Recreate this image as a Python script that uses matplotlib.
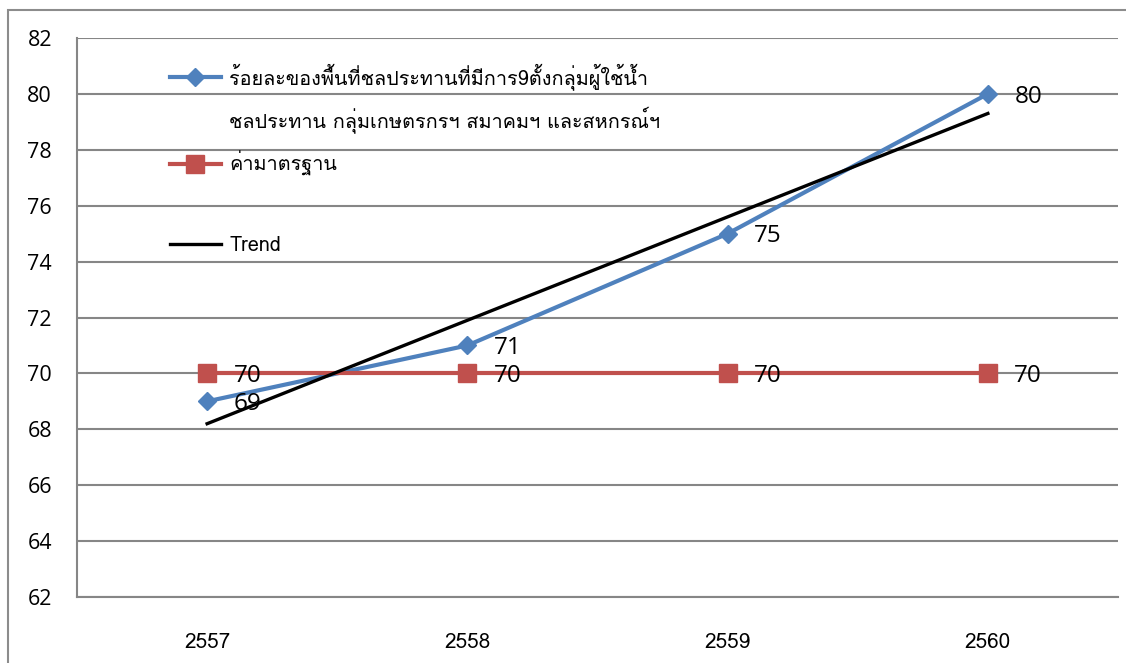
import numpy as np
import matplotlib
matplotlib.use('Agg')
import matplotlib.pyplot as plt
from matplotlib.lines import Line2D
from matplotlib.patches import Rectangle

# data
years = ['2557', '2558', '2559', '2560']
pct_area = [69, 71, 75, 80]
standard = [70, 70, 70, 70]

label_line1 = 'ร้อยละของพื้นที่ชลประทานที่มีการ9ตั้งกลุ่มผู้ใช้น้ำ'
label_line2 = 'ชลประทาน กลุ่มเกษตรกรฯ สมาคมฯ และสหกรณ์ฯ'
label_std = 'ค่ามาตรฐาน'
label_trend = 'Trend'

blue = '#4F81BD'
red = '#C0504D'
grid_col = '#868686'
thai_font = ['Loma', 'DejaVu Sans']
num_font = ['Open Sans', 'DejaVu Sans']

W, H = 1126, 663
fig = plt.figure(figsize=(W / 100, H / 100), dpi=100)
ax = fig.add_axes([77 / W, (H - 597) / H, 1041 / W, 559 / H])

# outer chart border (cropped on the right and bottom)
fig.patches.append(Rectangle((8 / W, -0.2), 1.5, 1.2 - 10 / H, transform=fig.transFigure,
                             fill=False, edgecolor='#8c8c8c', lw=1.5))

x = np.arange(len(years))
ax.plot(x, pct_area, color=blue, lw=3, marker='D', ms=9.5, zorder=3)
ax.plot(x, standard, color=red, lw=3, marker='s', ms=13, zorder=3)

# linear trend of the first series (as the spreadsheet trendline does)
slope, icpt = np.polyfit(x, pct_area, 1)
ax.plot(x, slope * x + icpt, color='black', lw=2.4, zorder=4)

for xi, v in zip(x, pct_area):
    ax.annotate(str(v), (xi, v), xytext=(19, -2), textcoords='offset points',
                ha='left', va='center', fontsize=17.5, family=num_font, zorder=5)
for xi, v in zip(x, standard):
    ax.annotate(str(v), (xi, v), xytext=(19, -2), textcoords='offset points',
                ha='left', va='center', fontsize=17.5, family=num_font, zorder=5)

ax.set_xlim(-0.5, 3.5)
ax.set_ylim(62, 82)
ax.set_yticks(np.arange(62, 83, 2))
ax.set_xticks(x)
ax.set_xticklabels(years, family=thai_font, fontsize=15)
ax.set_yticklabels([str(v) for v in range(62, 83, 2)], family=num_font, fontsize=15.5)
ax.tick_params(axis='x', length=0, pad=26)
ax.tick_params(axis='y', length=0, pad=18)
ax.grid(axis='y', color=grid_col, lw=1.5)
ax.set_axisbelow(True)
for s in ['top', 'right']:
    ax.spines[s].set_visible(False)
for s in ['left', 'bottom']:
    ax.spines[s].set_color(grid_col)
    ax.spines[s].set_linewidth(1.5)

handles = [
    Line2D([], [], color=blue, lw=3, marker='D', ms=9.5),
    Line2D([], [], color='none'),
    Line2D([], [], color=red, lw=3, marker='s', ms=13),
    Line2D([], [], color='none'),
    Line2D([], [], color='black', lw=2.4),
]
# the 4th row is an empty slot in the original legend; a hidden placeholder keeps its height
labels = [label_line1, label_line2, label_std, label_std, label_trend]
leg = ax.legend(handles, labels, loc='upper left', bbox_to_anchor=(0.089, 0.955),
                frameon=False, borderpad=0, borderaxespad=0, handlelength=2.6,
                handletextpad=0.4, labelspacing=0.86, prop={'family': thai_font, 'size': 14.3})
leg.get_texts()[3].set_alpha(0)

fig.savefig('out.png', dpi=100)
